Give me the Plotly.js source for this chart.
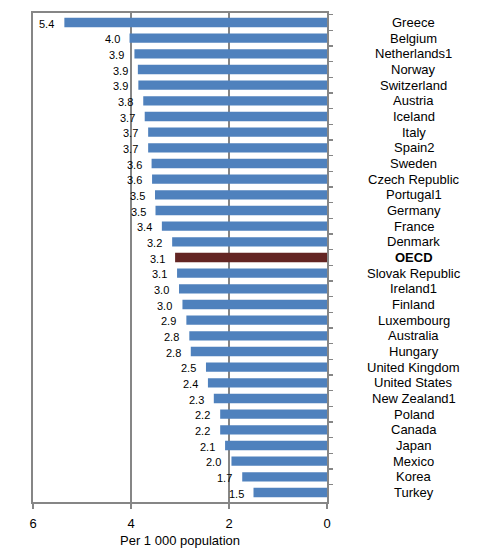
<!DOCTYPE html>
<html>
<head>
<meta charset="utf-8">
<script src="https://cdn.plot.ly/plotly-3.0.1.min.js"></script>
<style>
html,body{margin:0;padding:0;background:#fff;}
#chart{width:477px;height:554px;}
</style>
</head>
<body>
<div id="chart"></div>
<script>
var countries = ["Greece","Belgium","Netherlands1","Norway","Switzerland","Austria","Iceland","Italy","Spain2","Sweden","Czech Republic","Portugal1","Germany","France","Denmark","OECD","Slovak Republic","Ireland1","Finland","Luxembourg","Australia","Hungary","United Kingdom","United States","New Zealand1","Poland","Canada","Japan","Mexico","Korea","Turkey"];
var values = [5.36,4.03,3.93,3.86,3.85,3.75,3.72,3.65,3.65,3.58,3.57,3.51,3.50,3.37,3.16,3.10,3.06,3.02,2.95,2.87,2.81,2.78,2.47,2.43,2.31,2.18,2.18,2.08,1.95,1.73,1.50];
var valueLabels = ["5.4","4.0","3.9","3.9","3.9","3.8","3.7","3.7","3.7","3.6","3.6","3.5","3.5","3.4","3.2","3.1","3.1","3.0","3.0","2.9","2.8","2.8","2.5","2.4","2.3","2.2","2.2","2.1","2.0","1.7","1.5"];
var xTickVals = [6,4,2,0];
var xTickText = ["6","4","2","0"];
var xTitle = "Per 1 000 population";

var colors = countries.map(function(c){ return c === "OECD" ? "#632523" : "#4f81bd"; });

var trace = {
  type: "bar",
  orientation: "h",
  x: values,
  y: countries,
  marker: {color: colors, line: {width: 0}},
  hoverinfo: "skip"
};

var font = "Liberation Sans, Arial, sans-serif";
var annotations = [];
countries.forEach(function(c, i){
  annotations.push({
    x: values[i], y: c, xref: "x", yref: "y",
    text: valueLabels[i], showarrow: false,
    xanchor: "right", yanchor: "middle", xshift: -8, yshift: -1,
    font: {family: font, size: 11, color: "#000"}
  });
  annotations.push({
    x: 1.295, y: c, xref: "paper", yref: "y",
    text: c === "OECD" ? "<b>OECD</b>" : c, showarrow: false,
    xanchor: "center", yanchor: "middle",
    font: {family: font, size: 13, color: "#000"}
  });
});

var lineCol = "#868686";
var layout = {
  width: 477, height: 554,
  margin: {l: 33, r: 150, t: 13, b: 52, pad: 0},
  paper_bgcolor: "#fff", plot_bgcolor: "#fff",
  showlegend: false,
  bargap: 0.4,
  font: {family: font, size: 13, color: "#000"},
  xaxis: {
    range: [6, 0], autorange: false,
    tickmode: "array", tickvals: xTickVals, ticktext: xTickText,
    ticks: "outside", ticklen: 5, tickwidth: 2, tickcolor: lineCol,
    ticklabelstandoff: 3,
    showline: true, linecolor: lineCol, linewidth: 2, mirror: true,
    showgrid: true, gridcolor: lineCol, gridwidth: 2,
    zeroline: false,
    tickfont: {family: font, size: 13, color: "#000"},
    title: {text: xTitle, font: {family: font, size: 13, color: "#000"}, standoff: 6}
  },
  yaxis: {
    type: "category", autorange: "reversed",
    side: "right",
    showticklabels: false,
    ticks: "outside", ticklen: 4, tickwidth: 1.5, tickcolor: lineCol,
    tickson: "boundaries",
    showline: true, linecolor: lineCol, linewidth: 2, mirror: true,
    showgrid: false, zeroline: false
  },
  annotations: annotations
};

Plotly.newPlot("chart", [trace], layout, {displayModeBar: false, staticPlot: true});
</script>
</body>
</html>
